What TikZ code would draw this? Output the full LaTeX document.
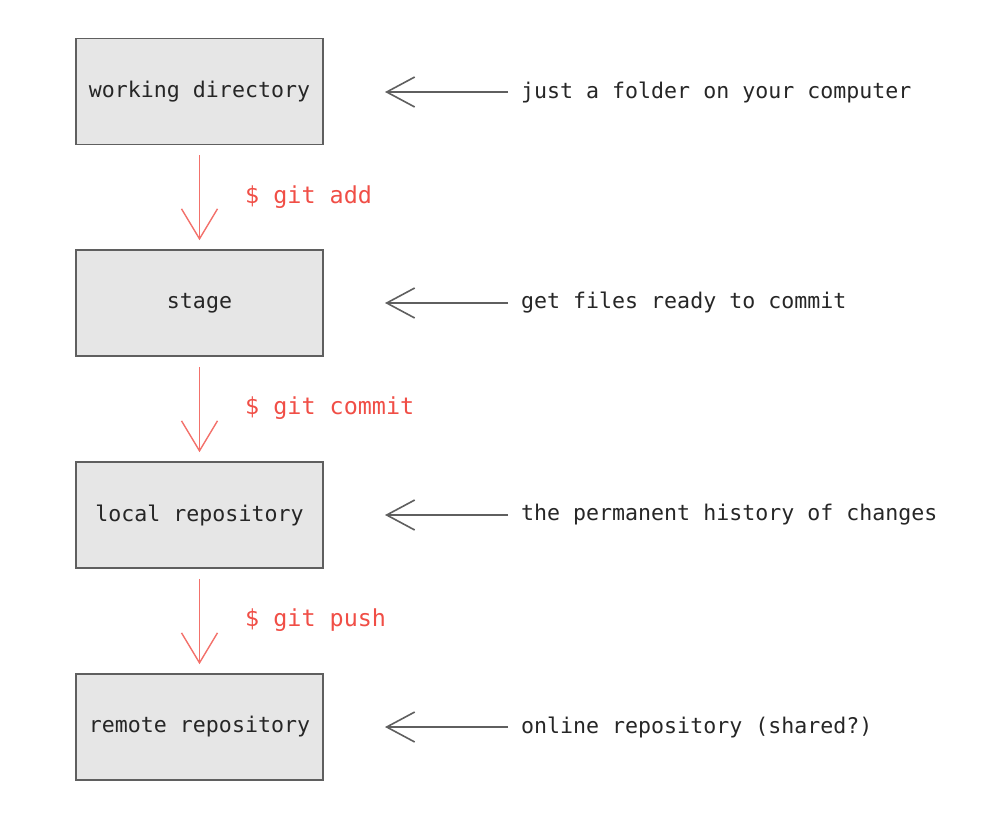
\documentclass[tikz,border=0pt]{standalone}
\usepackage{fontspec}
\setmonofont{DejaVu Sans Mono}
\usetikzlibrary{arrows.meta}
\definecolor{cmdred}{RGB}{240,78,70}
\definecolor{boxgray}{RGB}{230,230,230}
\definecolor{linegray}{RGB}{95,95,95}
\tikzset{
	stagebox/.style={draw=linegray, line width=1.6pt, fill=boxgray, minimum width=247pt, minimum height=106pt, inner sep=0pt, text=black!85, font=\ttfamily\fontsize{21.6}{26}\selectfont},
	cmd/.style={anchor=west, inner sep=0pt, text=cmdred, font=\ttfamily\fontsize{23.4}{28}\selectfont},
	note/.style={anchor=west, inner sep=0pt, text=black!85, font=\ttfamily\fontsize{21.6}{26}\selectfont},
	redarrow/.style={draw=cmdred!80, line width=1.4pt, -{Straight Barb[length=30pt, width=36pt, line width=1.4pt]}, shorten <=10pt, shorten >=9pt},
	grayarrow/.style={draw=linegray, line width=1.6pt, -{Straight Barb[length=28pt, width=30pt, line width=1.6pt]}, shorten <=13pt}
}
\begin{document}
\begin{tikzpicture}[x=1pt, y=-1pt]
			%%%%% START %%%%%
			\useasboundingbox (0, 0) rectangle (992, 812);
			
			\node[stagebox] (work) at (199.5, 91.5) {working directory};
			\node[stagebox] (stage) at (199.5, 303) {stage};
			\node[stagebox] (local) at (199.5, 515) {local repository};
			\node[stagebox] (remote) at (199.5, 727) {remote repository};
			
			\draw[redarrow] (work) -- (stage);
			\draw[redarrow] (stage) -- (local);
			\draw[redarrow] (local) -- (remote);
			
			\node[cmd] (add) at (245, 197) {\$ git add};
			\node[cmd] (commit) at (245, 408) {\$ git commit};
			\node[cmd] (push) at (245, 620) {\$ git push};
			
			\node[note] (folder) at (521, 92) {just a folder on your computer};
			\node[note] (ready) at (521, 303) {get files ready to commit};
			\node[note] (history) at (521, 515) {the permanent history of changes};
			\node[note] (online) at (521, 727) {online repository (shared?)};
			
			\coordinate (tipwork) at ([xshift=-136pt]folder.west);
			\coordinate (tipstage) at ([xshift=-136pt]ready.west);
			\coordinate (tiplocal) at ([xshift=-136pt]history.west);
			\coordinate (tipremote) at ([xshift=-136pt]online.west);
			
			\draw[grayarrow] (folder.west) -- (tipwork);
			\draw[grayarrow] (ready.west) -- (tipstage);
			\draw[grayarrow] (history.west) -- (tiplocal);
			\draw[grayarrow] (online.west) -- (tipremote);
			%%%%% END %%%%%
\end{tikzpicture}
\end{document}
